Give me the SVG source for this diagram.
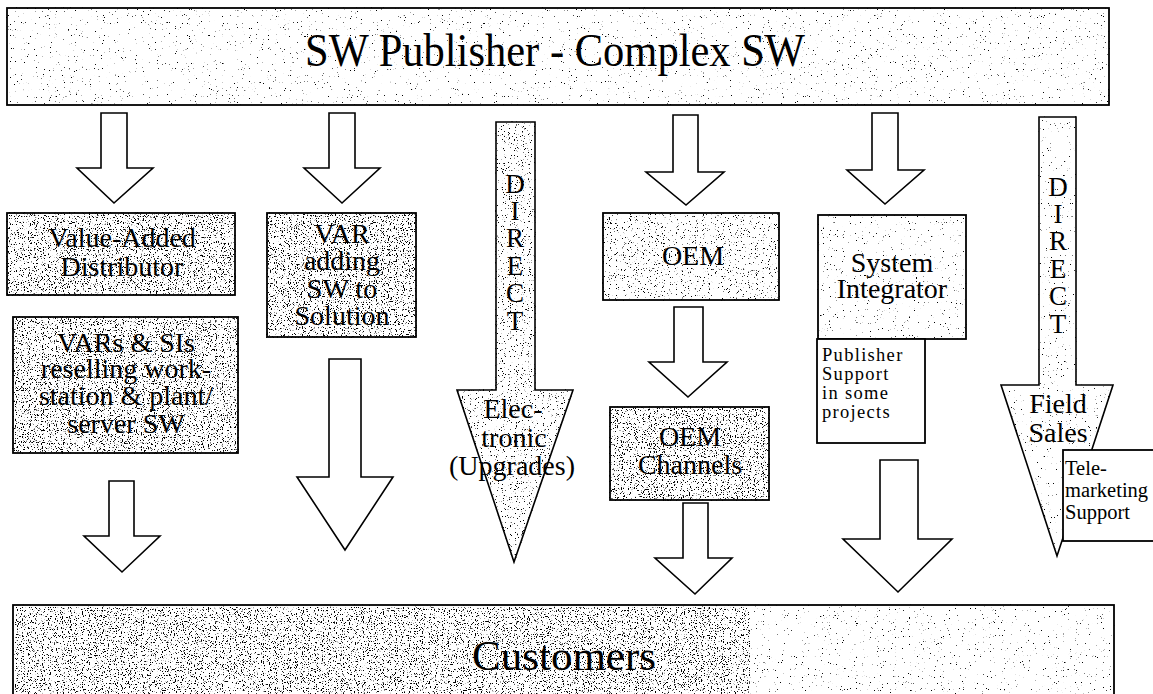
<svg xmlns="http://www.w3.org/2000/svg" width="1153" height="694" viewBox="0 0 1153 694">
<style>
  .shape { fill: #ffffff; stroke: #000000; stroke-width: 1.8; stroke-linejoin: miter; }
  .arrow { fill: #ffffff; stroke: #000000; stroke-width: 1.6; stroke-linejoin: miter; }
  text { font-family: "Liberation Serif", "Times New Roman", serif; fill: #000000; }
  .lbl { font-size: 28px; text-anchor: middle; }
  .small { font-size: 18.5px; text-anchor: start; letter-spacing: 1.3px; }
  .tele { font-size: 20.5px; text-anchor: start; }
  .letter { font-size: 27px; text-anchor: middle; }
</style>
<defs>
  <filter id="dense" x="-5%" y="-5%" width="110%" height="110%" color-interpolation-filters="sRGB">
    <feTurbulence type="fractalNoise" baseFrequency="0.85" numOctaves="2" seed="4" result="n"/>
    <feColorMatrix in="n" type="matrix" values="0 0 0 0 0  0 0 0 0 0  0 0 0 0 0  14 0 0 0 -8.4" result="d"/>
    <feComposite in="d" in2="SourceAlpha" operator="in" result="s"/>
    <feMerge><feMergeNode in="SourceGraphic"/><feMergeNode in="s"/></feMerge>
  </filter>
  <filter id="medium" x="-5%" y="-5%" width="110%" height="110%" color-interpolation-filters="sRGB">
    <feTurbulence type="fractalNoise" baseFrequency="0.85" numOctaves="2" seed="9" result="n"/>
    <feColorMatrix in="n" type="matrix" values="0 0 0 0 0  0 0 0 0 0  0 0 0 0 0  14 0 0 0 -9.2" result="d"/>
    <feComposite in="d" in2="SourceAlpha" operator="in" result="s"/>
    <feMerge><feMergeNode in="SourceGraphic"/><feMergeNode in="s"/></feMerge>
  </filter>
  <filter id="sparse" x="-5%" y="-5%" width="110%" height="110%" color-interpolation-filters="sRGB">
    <feTurbulence type="fractalNoise" baseFrequency="0.85" numOctaves="2" seed="13" result="n"/>
    <feColorMatrix in="n" type="matrix" values="0 0 0 0 0  0 0 0 0 0  0 0 0 0 0  14 0 0 0 -10.1" result="d"/>
    <feComposite in="d" in2="SourceAlpha" operator="in" result="s"/>
    <feMerge><feMergeNode in="SourceGraphic"/><feMergeNode in="s"/></feMerge>
  </filter>
</defs>

<rect x="0" y="0" width="1153" height="694" fill="#ffffff"/>

<g id="publisher">
  <rect class="shape" x="7" y="8" width="1102" height="97" filter="url(#sparse)"/>
  <text x="305" y="66" font-size="47" textLength="500" lengthAdjust="spacingAndGlyphs">SW Publisher - Complex SW</text>
</g>

<g id="connectors">
  <path class="arrow" d="M101,113 H127 V168 H153 L114,203 L77,168 H101 Z"/>
  <path class="arrow" d="M329,113 H355 V168 H380 L342,203 L304,168 H329 Z"/>
  <path class="arrow" d="M673,115 H698 V172 H724 L686,205 L646,172 H673 Z"/>
  <path class="arrow" d="M872,113 H898 V170 H924 L885,204 L847,170 H872 Z"/>
  <path class="arrow" d="M109,481 H134 V536 H160 L122,572 L84,536 H109 Z"/>
  <path class="arrow" d="M329,359 H361 V477 H393 L345,550 L297,477 H329 Z"/>
  <path class="arrow" d="M674,307 H703 V362 H727 L688,397 L649,362 H674 Z"/>
  <path class="arrow" d="M683,503 H708 V558 H732 L695,594 L655,558 H683 Z"/>
  <path class="arrow" d="M880,460 H918 V539 H952 L898,592 L843,539 H880 Z"/>
</g>

<g id="direct-electronic">
  <path class="arrow" d="M496,122 H535 V390 H573 L514,562 L457,390 H496 Z" filter="url(#medium)"/>
  <text class="letter" x="515" y="193">D</text>
  <text class="letter" x="515" y="220">I</text>
  <text class="letter" x="515" y="247">R</text>
  <text class="letter" x="515" y="275">E</text>
  <text class="letter" x="515" y="302">C</text>
  <text class="letter" x="515" y="330">T</text>
  <text class="lbl" x="513" y="418">Elec-</text>
  <text class="lbl" x="514" y="447">tronic</text>
  <text class="lbl" x="512" y="475">(Upgrades)</text>
</g>

<g id="direct-field-sales">
  <path class="arrow" d="M1039,117 H1076 V385 H1113 L1057,556 L1001,385 H1039 Z" filter="url(#sparse)"/>
  <text class="letter" x="1058" y="196">D</text>
  <text class="letter" x="1058" y="223">I</text>
  <text class="letter" x="1058" y="250">R</text>
  <text class="letter" x="1058" y="278">E</text>
  <text class="letter" x="1058" y="305">C</text>
  <text class="letter" x="1058" y="333">T</text>
  <text class="lbl" x="1058" y="413">Field</text>
  <text class="lbl" x="1058" y="442">Sales</text>
</g>

<g id="value-added-distributor">
  <rect class="shape" x="7" y="213" width="228" height="82" filter="url(#dense)"/>
  <text class="lbl" x="122" y="247" font-size="27">Value-Added</text>
  <text class="lbl" x="122" y="276" font-size="27">Distributor</text>
</g>

<g id="vars-sis">
  <rect class="shape" x="13" y="317" width="225" height="136" filter="url(#dense)"/>
  <text class="lbl" x="126" y="352">VARs &amp; SIs</text>
  <text class="lbl" x="126" y="378">reselling work-</text>
  <text class="lbl" x="126" y="405">station &amp; plant/</text>
  <text class="lbl" x="126" y="433">server SW</text>
</g>

<g id="var-adding">
  <rect class="shape" x="267" y="213" width="149" height="124" filter="url(#dense)"/>
  <text class="lbl" x="342" y="243">VAR</text>
  <text class="lbl" x="342" y="270">adding</text>
  <text class="lbl" x="342" y="298">SW to</text>
  <text class="lbl" x="342" y="325">Solution</text>
</g>

<g id="oem">
  <rect class="shape" x="603" y="213" width="176" height="87" filter="url(#medium)"/>
  <text class="lbl" x="693" y="265">OEM</text>
</g>

<g id="oem-channels">
  <rect class="shape" x="610" y="407" width="159" height="93" filter="url(#dense)"/>
  <text class="lbl" x="690" y="446">OEM</text>
  <text class="lbl" x="690" y="474">Channels</text>
</g>

<g id="system-integrator">
  <rect class="shape" x="818" y="215" width="148" height="124" filter="url(#sparse)"/>
  <text class="lbl" x="892" y="272">System</text>
  <text class="lbl" x="892" y="298">Integrator</text>
</g>

<g id="publisher-support">
  <rect class="shape" x="817" y="339" width="108" height="104"/>
  <text class="small" x="822" y="361">Publisher</text>
  <text class="small" x="822" y="380">Support</text>
  <text class="small" x="822" y="399">in some</text>
  <text class="small" x="822" y="418">projects</text>
</g>

<g id="telemarketing-support">
  <rect class="shape" x="1063" y="450" width="100" height="91"/>
  <text class="tele" x="1065" y="475">Tele-</text>
  <text class="tele" x="1065" y="497">marketing</text>
  <text class="tele" x="1065" y="519">Support</text>
</g>

<g id="customers">
  <rect class="shape" x="13" y="605" width="1101" height="100" filter="url(#sparse)"/>
  <rect x="15" y="607" width="735" height="96" fill="#ffffff" filter="url(#dense)"/>
  <text x="564" y="670" font-size="43" text-anchor="middle">Customers</text>
</g>
</svg>
